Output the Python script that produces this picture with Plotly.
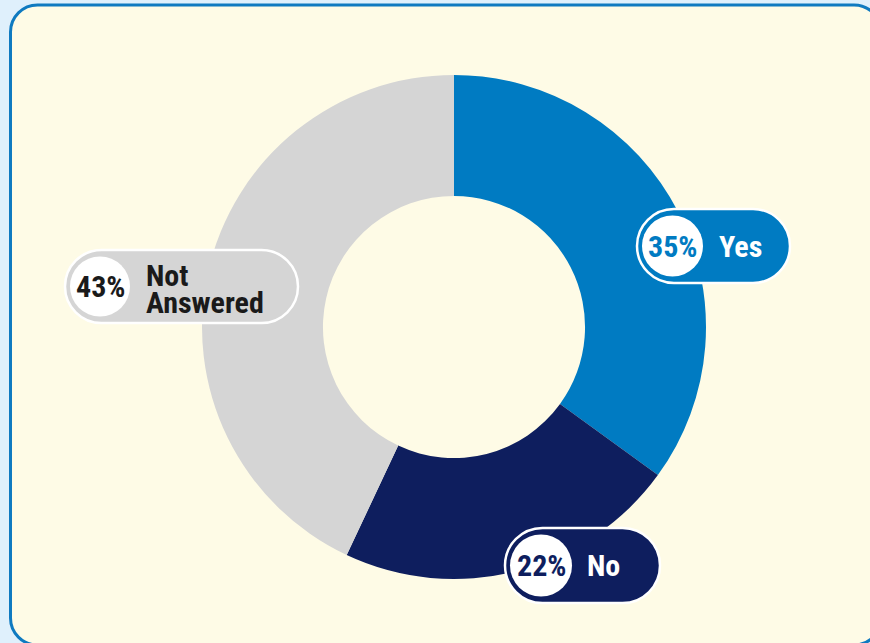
import plotly.graph_objects as go

# Survey responses
labels = ["Yes", "No", "Not Answered"]
values = [35, 22, 43]
slice_colors = ["#007bc2", "#0e1e5e", "#d5d5d5"]
label_text_colors = ["#ffffff", "#ffffff", "#1a1a1a"]
pct_text_colors = ["#007bc2", "#0e1e5e", "#1a1a1a"]

W, H = 870, 643
FONT = "Roboto Condensed, Liberation Sans Narrow, Roboto, sans-serif"

# Label pill boxes in page pixels: (left, top, right, bottom)
pill_boxes = [(637, 209, 790, 283), (505, 528, 660, 603), (65, 250, 298, 323)]


def px(x):
    return x / W


def py(y):
    return 1 - y / H


def rounded_rect_path(x0, y0, x1, y1, r):
    k = 0.5523 * r
    pts = [
        f"M{px(x0 + r)},{py(y0)}",
        f"L{px(x1 - r)},{py(y0)}",
        f"C{px(x1 - r + k)},{py(y0)} {px(x1)},{py(y0 + r - k)} {px(x1)},{py(y0 + r)}",
        f"L{px(x1)},{py(y1 - r)}",
        f"C{px(x1)},{py(y1 - r + k)} {px(x1 - r + k)},{py(y1)} {px(x1 - r)},{py(y1)}",
        f"L{px(x0 + r)},{py(y1)}",
        f"C{px(x0 + r - k)},{py(y1)} {px(x0)},{py(y1 - r + k)} {px(x0)},{py(y1 - r)}",
        f"L{px(x0)},{py(y0 + r)}",
        f"C{px(x0)},{py(y0 + r - k)} {px(x0 + r - k)},{py(y0)} {px(x0 + r)},{py(y0)}",
        "Z",
    ]
    return " ".join(pts)


cx, cy, R = 454, 327, 252

fig = go.Figure(
    go.Pie(
        labels=labels,
        values=values,
        hole=0.52,
        sort=False,
        direction="clockwise",
        rotation=0,
        marker=dict(colors=slice_colors, line=dict(width=0)),
        textinfo="none",
        hoverinfo="skip",
        showlegend=False,
        domain=dict(x=[px(cx - R), px(cx + R)], y=[py(cy + R), py(cy - R)]),
    )
)

shapes = [
    # card background
    dict(
        type="path",
        path=rounded_rect_path(10.5, 5, 881, 645, 27),
        fillcolor="#fefbe6",
        line=dict(color="#0f7ac0", width=3),
        layer="below",
    )
]
annotations = []
total = sum(values)

for i, (x0, y0, x1, y1) in enumerate(pill_boxes):
    h = y1 - y0
    r = h / 2
    ccx = x0 + r - 1.5
    ccy = y0 + r
    shapes.append(
        dict(
            type="path",
            path=rounded_rect_path(x0, y0, x1, y1, r),
            fillcolor=slice_colors[i],
            line=dict(color="#ffffff", width=2.5),
            layer="above",
        )
    )
    cr = r - 6.5
    shapes.append(
        dict(
            type="circle",
            x0=px(ccx - cr), x1=px(ccx + cr),
            y0=py(ccy + cr), y1=py(ccy - cr),
            fillcolor="#ffffff",
            line=dict(width=0),
            layer="above",
        )
    )
    pct = round(values[i] / total * 100)
    annotations.append(
        dict(
            x=px(ccx), y=py(ccy), xref="paper", yref="paper",
            text=f"{pct}%", showarrow=False,
            xanchor="center", yanchor="middle",
            font=dict(family=FONT, size=30, color=pct_text_colors[i], weight="bold"),
        )
    )
    words = labels[i].split(" ")
    step = 27.5
    for j, w in enumerate(words):
        offset = (j - (len(words) - 1) / 2) * step + (2.5 if len(words) > 1 else 0)
        annotations.append(
            dict(
                x=px(ccx + 44), y=py(ccy + offset), xref="paper", yref="paper",
                text=w, showarrow=False, align="left",
                xanchor="left", yanchor="middle",
                font=dict(family=FONT, size=30, color=label_text_colors[i],
                          weight="bold"),
            )
        )

fig.update_layout(
    width=W,
    height=H,
    margin=dict(l=0, r=0, t=0, b=0),
    paper_bgcolor="#dff0fc",
    plot_bgcolor="rgba(0,0,0,0)",
    shapes=shapes,
    annotations=annotations,
)

fig.write_html("out.html")
